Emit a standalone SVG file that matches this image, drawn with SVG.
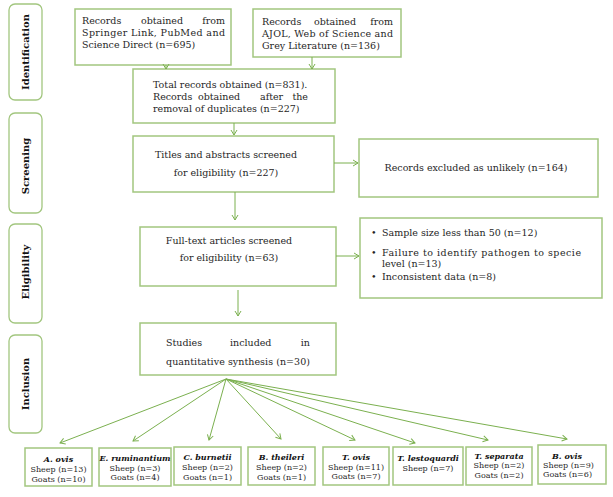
<svg xmlns="http://www.w3.org/2000/svg" width="613" height="497" viewBox="0 0 613 497">
<defs>
<marker id="ah" markerWidth="8" markerHeight="8" refX="6" refY="4" orient="auto" markerUnits="userSpaceOnUse">
<path d="M1,1 L6,4 L1,7" fill="none" stroke="#7bb04f" stroke-width="1"/>
</marker>
<style>
.box{fill:#fff;stroke:#a2c67f;stroke-width:1.5}
.side{fill:#fff;stroke:#a2c67f;stroke-width:1.3}
.t{font-family:"DejaVu Serif","Liberation Serif",serif;font-size:9.5px;fill:#262626}
.s{font-family:"DejaVu Serif","Liberation Serif",serif;font-size:10px;font-weight:bold;fill:#111}
.b{font-family:"DejaVu Serif","Liberation Serif",serif;font-size:8px;fill:#262626}
.bt{font-family:"DejaVu Serif","Liberation Serif",serif;font-size:8px;font-weight:bold;font-style:italic;fill:#111}
.c line{stroke:#7bb04f;stroke-width:1;marker-end:url(#ah)}
</style>
</defs>
<rect width="613" height="497" fill="#fff"/>

<g id="stage-identification">
<rect class="side" x="9" y="4" width="33" height="96" rx="6"/>
<text class="s" transform="translate(29,52) rotate(-90)" text-anchor="middle">Identification</text>
</g>
<g id="stage-screening">
<rect class="side" x="9" y="113" width="33" height="100" rx="6"/>
<text class="s" transform="translate(29,166) rotate(-90)" text-anchor="middle">Screening</text>
</g>
<g id="stage-eligibility">
<rect class="side" x="9" y="224" width="33" height="99" rx="6"/>
<text class="s" transform="translate(29,272) rotate(-90)" text-anchor="middle">Eligibility</text>
</g>
<g id="stage-inclusion">
<rect class="side" x="9" y="335" width="33" height="98" rx="6"/>
<text class="s" transform="translate(29,384) rotate(-90)" text-anchor="middle">Inclusion</text>
</g>

<g id="records-springer">
<rect class="box" x="75" y="9" width="156" height="56"/>
<text class="t" x="82" y="24">Records</text>
<text class="t" x="162" y="24" text-anchor="middle">obtained</text>
<text class="t" x="225" y="24" text-anchor="end">from</text>
<text class="t" x="82" y="36" textLength="143" lengthAdjust="spacing">Springer Link, PubMed and</text>
<text class="t" x="82" y="48">Science Direct (n=695)</text>
</g>

<g id="records-ajol">
<rect class="box" x="253" y="9" width="148" height="48"/>
<text class="t" x="262" y="25">Records</text>
<text class="t" x="335" y="25" text-anchor="middle">obtained</text>
<text class="t" x="393" y="25" text-anchor="end">from</text>
<text class="t" x="262" y="37" textLength="131" lengthAdjust="spacing">AJOL, Web of Science and</text>
<text class="t" x="262" y="49">Grey Literature (n=136)</text>
</g>

<g id="total-records">
<rect class="box" x="133" y="69" width="202" height="54"/>
<text class="t" x="153" y="88">Total records obtained (n=831).</text>
<text class="t" x="153" y="100">Records</text>
<text class="t" x="198" y="100">obtained</text>
<text class="t" x="260" y="100">after</text>
<text class="t" x="308" y="100" text-anchor="end">the</text>
<text class="t" x="153" y="112">removal of duplicates (n=227)</text>
</g>

<g id="titles-screened">
<rect class="box" x="133" y="136" width="201" height="56"/>
<text class="t" x="226" y="158" text-anchor="middle">Titles and abstracts screened</text>
<text class="t" x="226" y="176" text-anchor="middle">for eligibility (n=227)</text>
</g>

<g id="records-excluded">
<rect class="box" x="359" y="139" width="239" height="58"/>
<text class="t" x="476" y="171" text-anchor="middle">Records excluded as unlikely (n=164)</text>
</g>

<g id="fulltext-screened">
<rect class="box" x="140" y="227" width="196" height="59"/>
<text class="t" x="229" y="244" text-anchor="middle">Full-text articles screened</text>
<text class="t" x="229" y="261" text-anchor="middle">for eligibility (n=63)</text>
</g>

<g id="fulltext-excluded">
<rect class="box" x="360" y="218" width="242" height="80"/>
<text class="t" x="371" y="236">•</text>
<text class="t" x="382" y="236">Sample size less than 50 (n=12)</text>
<text class="t" x="371" y="256">•</text>
<text class="t" x="382" y="256" textLength="199" lengthAdjust="spacing">Failure to identify pathogen to specie</text>
<text class="t" x="382" y="267">level (n=13)</text>
<text class="t" x="371" y="280">•</text>
<text class="t" x="382" y="280">Inconsistent data (n=8)</text>
</g>

<g id="studies-included">
<rect class="box" x="140" y="323" width="196" height="52"/>
<text class="t" x="166" y="346">Studies</text>
<text class="t" x="230" y="346">included</text>
<text class="t" x="310" y="346" text-anchor="end">in</text>
<text class="t" x="166" y="365" textLength="144" lengthAdjust="spacing">quantitative synthesis (n=30)</text>
</g>

<g id="a-ovis">
<rect class="box" x="25" y="448" width="67" height="38"/>
<text class="bt" x="58.5" y="462" text-anchor="middle">A. ovis</text>
<text class="b" x="58.5" y="472" text-anchor="middle">Sheep (n=13)</text>
<text class="b" x="58.5" y="481.5" text-anchor="middle">Goats (n=10)</text>
</g>
<g id="e-ruminantium">
<rect class="box" x="99" y="448" width="72" height="38"/>
<text class="bt" x="135" y="461" text-anchor="middle">E. ruminantium</text>
<text class="b" x="135" y="471" text-anchor="middle">Sheep (n=3)</text>
<text class="b" x="135" y="480" text-anchor="middle">Goats (n=4)</text>
</g>
<g id="c-burnetii">
<rect class="box" x="174" y="447" width="67" height="38"/>
<text class="bt" x="207.5" y="460" text-anchor="middle">C. burnetii</text>
<text class="b" x="207.5" y="470" text-anchor="middle">Sheep (n=2)</text>
<text class="b" x="207.5" y="480" text-anchor="middle">Goats (n=1)</text>
</g>
<g id="b-theileri">
<rect class="box" x="248" y="447" width="67" height="38"/>
<text class="bt" x="281.5" y="460" text-anchor="middle">B. theileri</text>
<text class="b" x="281.5" y="470" text-anchor="middle">Sheep (n=2)</text>
<text class="b" x="281.5" y="480" text-anchor="middle">Goats (n=1)</text>
</g>
<g id="t-ovis">
<rect class="box" x="323" y="447" width="66" height="38"/>
<text class="bt" x="356" y="460" text-anchor="middle">T. ovis</text>
<text class="b" x="356" y="469.5" text-anchor="middle">Sheep (n=11)</text>
<text class="b" x="356" y="479" text-anchor="middle">Goats (n=7)</text>
</g>
<g id="t-lestoquardi">
<rect class="box" x="393" y="447" width="70" height="38"/>
<text class="bt" x="428" y="461" text-anchor="middle">T. lestoquardi</text>
<text class="b" x="428" y="471" text-anchor="middle">Sheep (n=7)</text>
</g>
<g id="t-separata">
<rect class="box" x="466" y="447" width="66" height="38"/>
<text class="bt" x="499" y="459" text-anchor="middle">T. separata</text>
<text class="b" x="499" y="468" text-anchor="middle">Sheep (n=2)</text>
<text class="b" x="499" y="478" text-anchor="middle">Goats (n=2)</text>
</g>
<g id="b-ovis">
<rect class="box" x="538" y="445" width="68" height="39"/>
<text class="bt" x="567" y="459" text-anchor="middle">B. ovis</text>
<text class="b" x="543" y="467.5">Sheep (n=9)</text>
<text class="b" x="543" y="476.5">Goats (n=6)</text>
</g>

<g id="connectors" class="c">
<line x1="166" y1="65" x2="166" y2="69"/>
<line x1="312" y1="57" x2="312" y2="69"/>
<line x1="234" y1="123" x2="234" y2="135"/>
<line x1="334" y1="163" x2="358" y2="163"/>
<line x1="235" y1="192" x2="235" y2="220"/>
<line x1="336" y1="256" x2="359" y2="256"/>
<line x1="238" y1="290" x2="238" y2="316"/>
<line x1="226" y1="379" x2="60" y2="443"/>
<line x1="226" y1="379" x2="133" y2="441"/>
<line x1="226" y1="379" x2="209" y2="440"/>
<line x1="226" y1="379" x2="281" y2="439"/>
<line x1="226" y1="379" x2="355" y2="440"/>
<line x1="226" y1="379" x2="415" y2="443"/>
<line x1="226" y1="379" x2="488" y2="440"/>
<line x1="226" y1="379" x2="567" y2="439"/>
</g>
</svg>
